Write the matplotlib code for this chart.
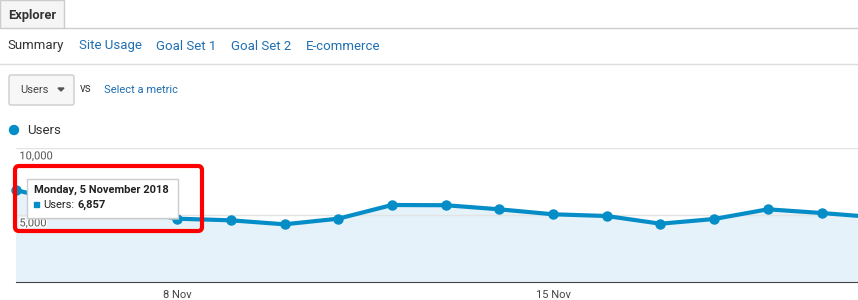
import matplotlib.pyplot as plt
import matplotlib.patches as mpatches
import matplotlib.patheffects as pe
import numpy as np

plt.rcParams['font.family'] = ['Roboto', 'DejaVu Sans']

# daily users, 5 Nov 2018 onwards (6 and 7 Nov sit under the tooltip, estimated)
days = ["5 Nov", "6 Nov", "7 Nov", "8 Nov", "9 Nov", "10 Nov", "11 Nov", "12 Nov",
        "13 Nov", "14 Nov", "15 Nov", "16 Nov", "17 Nov", "18 Nov", "19 Nov",
        "20 Nov", "21 Nov"]
users = [6857, 5900, 5400, 4724, 4604, 4306, 4724, 5746, 5730, 5425, 5052,
         4925, 4351, 4701, 5425, 5149, 4836]
tick_days = ["8 Nov", "15 Nov"]
y_ticks = [5000, 10000]
y_tick_labels = ["5,000", "10,000"]
tabs = ["Summary", "Site Usage", "Goal Set 1", "Goal Set 2", "E-commerce"]
tab_x = [7, 79, 156, 231, 306]

W, H = 858, 300
line_c = "#058dc7"
fill_c = "#e5f2f9"
link_c = "#1f6fb3"

fig = plt.figure(figsize=(W / 100, H / 100), dpi=100)

# chart area: x 16..858 px, baseline at y=282, 10,000 at y=148
ax = fig.add_axes([16 / W, (H - 282) / H, (W - 16) / W, (282 - 148) / H])
x = np.arange(len(days))
ax.fill_between(x, 0, users, color=fill_c, lw=0, zorder=1)
ax.plot(x, users, color=line_c, lw=3, marker="o", ms=6.5, zorder=3, clip_on=False)
ax.set_xlim(0, (W - 16) / 53.7)
ax.set_ylim(0, 10000)
for v in y_ticks:
    ax.axhline(v, color="#e3e3e3", lw=1, zorder=2)
for v, lab in zip(y_ticks, y_tick_labels):
    ax.text(0.004, v - 250, lab, transform=ax.get_yaxis_transform(), ha="left", va="top",
            fontsize=8, color="#555555", zorder=4,
            path_effects=[pe.withStroke(linewidth=2, foreground="white")])
for s in ["top", "right", "left"]:
    ax.spines[s].set_visible(False)
ax.spines["bottom"].set_color("#444444")
ax.set_yticks([])
ax.set_xticks([days.index(d) for d in tick_days])
ax.set_xticklabels(tick_days, fontsize=8, color="#444444")
ax.tick_params(axis="x", length=0, pad=6)
ax.set_facecolor("none")

# overlay in pixel coordinates for the page furniture
ov = fig.add_axes([0, 0, 1, 1], zorder=5)
ov.set_xlim(0, W)
ov.set_ylim(H, 0)
ov.axis("off")
ov.patch.set_alpha(0)

# Explorer tab
ov.add_patch(mpatches.Rectangle((0, 0), 64, 28, facecolor="#f5f5f5", edgecolor="#cccccc", lw=1))
ov.plot([64, W], [28, 28], color="#cccccc", lw=1)
ov.text(8, 15, "Explorer", fontsize=9.3, fontweight="bold", color="#333333", va="center")

for t, tx in zip(tabs, tab_x):
    ov.text(tx, 46, t, fontsize=9.5, va="center", color="#333333" if t == "Summary" else link_c)
ov.plot([0, W], [64, 64], color="#dddddd", lw=1)

# metric selector
ov.add_patch(mpatches.FancyBboxPatch((9, 75), 65, 30, boxstyle="round,pad=0,rounding_size=2",
                                     facecolor="#f7f7f7", edgecolor="#cccccc", lw=1))
ov.text(20, 90, "Users", fontsize=8, va="center", color="#444444")
ov.add_patch(mpatches.Polygon([[58, 88], [64, 88], [61, 91]], closed=True, color="#555555"))
ov.text(80, 89, "vs", fontsize=8.5, va="center", color="#444444")
ov.text(104, 90, "Select a metric", fontsize=8, va="center", color=link_c)

# legend
ov.add_patch(mpatches.Circle((14, 130), 4.5, color=line_c))
ov.text(27, 130, "Users", fontsize=9.5, va="center", color="#333333")

# tooltip
ov.add_patch(mpatches.Rectangle((29, 181), 150, 39, facecolor="#dddddd", edgecolor="none", alpha=0.5))
ov.add_patch(mpatches.Rectangle((27, 179), 151, 39, facecolor="white", edgecolor="#cccccc", lw=1))
ov.text(34, 190, "Monday, 5 November 2018", fontsize=8, fontweight="bold", va="center", color="#222222")
ov.add_patch(mpatches.Rectangle((34, 202), 5, 5, color=line_c))
ov.text(43, 205, "Users:", fontsize=8, va="center", color="#222222")
ov.text(78, 205, "6,857", fontsize=8, fontweight="bold", va="center", color="#222222")

# red highlight box
ov.add_patch(mpatches.FancyBboxPatch((15, 166), 187, 65, boxstyle="round,pad=0,rounding_size=4",
                                     facecolor="none", edgecolor="#ff0000", lw=3))

fig.savefig("out.png", dpi=100)
